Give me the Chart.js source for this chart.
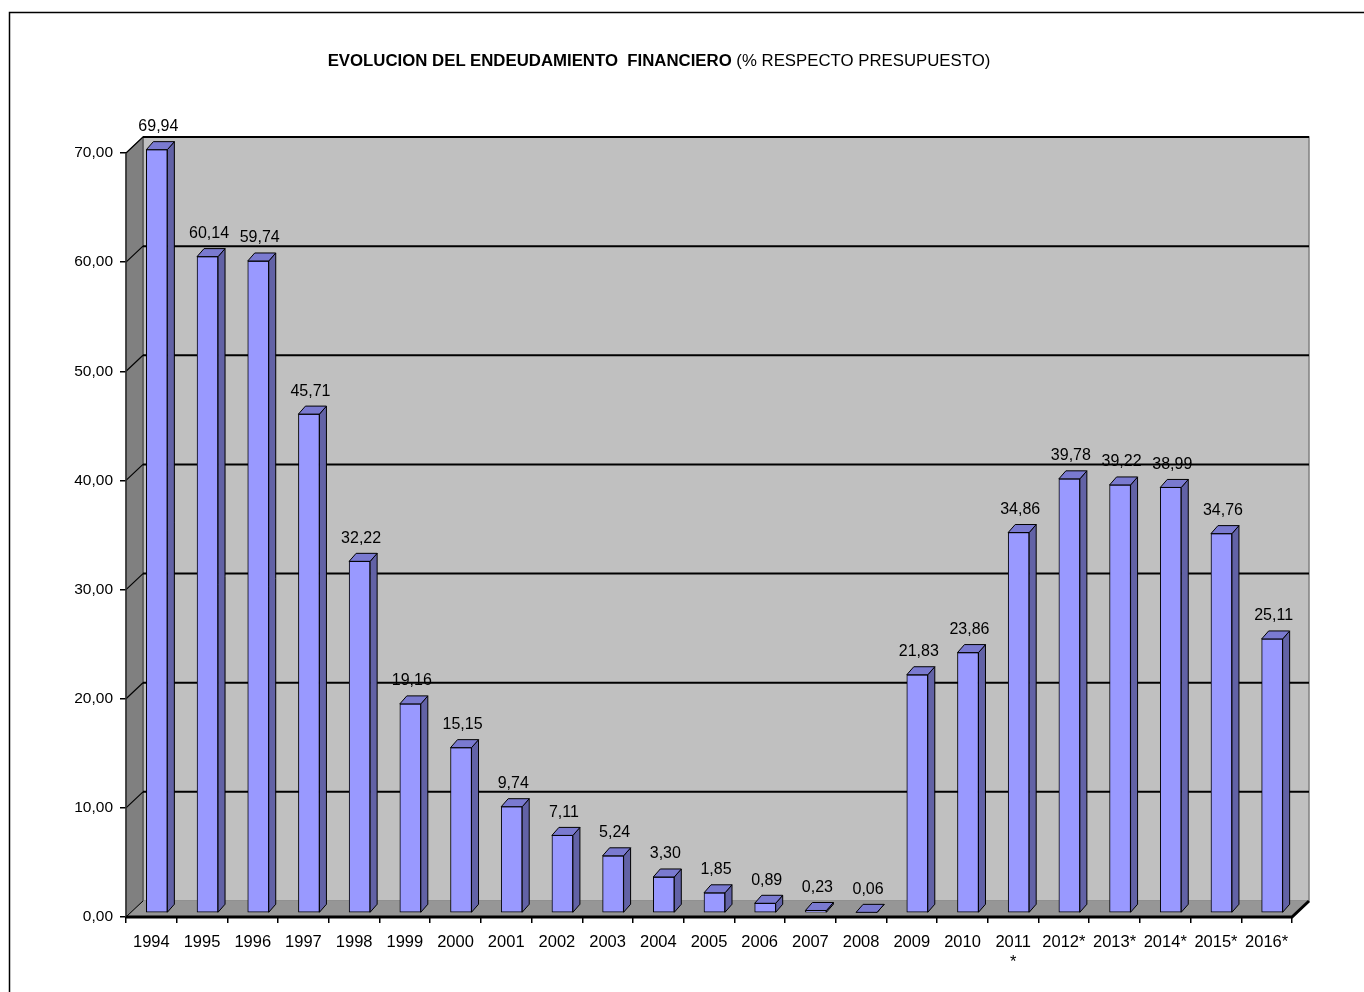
<!DOCTYPE html>
<html><head><meta charset="utf-8">
<script src="https://cdn.jsdelivr.net/npm/chart.js@4/dist/chart.umd.min.js"></script>
<style>
html,body{margin:0;padding:0;background:#fff;overflow:hidden;}
#wrap{position:relative;width:1364px;height:992px;}
canvas{position:absolute;left:0;top:0;}
#title{position:absolute;left:0;width:1318px;top:51px;line-height:20px;text-align:center;font-family:"Liberation Sans",Arial,sans-serif;font-size:16.8px;white-space:pre;color:#000;}
</style></head>
<body><div id="wrap"><canvas id="c" width="1364" height="992"></canvas><div id="title"><b>EVOLUCION DEL ENDEUDAMIENTO  FINANCIERO</b> (% RESPECTO PRESUPUESTO)</div></div>
<script>
const categories = ["1994","1995","1996","1997","1998","1999","2000","2001","2002","2003","2004","2005","2006","2007","2008","2009","2010",["2011","*"],"2012*","2013*","2014*","2015*","2016*"];
const values = [69.94,60.14,59.74,45.71,32.22,19.16,15.15,9.74,7.11,5.24,3.30,1.85,0.89,0.23,0.06,21.83,23.86,34.86,39.78,39.22,38.99,34.76,25.11];
const yTicks = [0,10,20,30,40,50,60,70];

const FONT = '"Liberation Sans",Arial,sans-serif';
const DX = 17, DY = -16;      // wall depth
const BX = 5.5, BY = -4;      // bar placement in depth
const BDX = 7, BDY = -8;      // bar depth
const fmt = v => v.toFixed(2).replace('.', ',');

const frame = {
  id: 'frame',
  beforeDraw(chart) {
    const c = chart.ctx;
    c.save();
    c.fillStyle = '#fff';
    c.fillRect(0, 0, chart.width, chart.height);
    c.strokeStyle = '#000';
    c.lineWidth = 1.5;
    c.beginPath();
    c.moveTo(9.5, chart.height + 5);
    c.lineTo(9.5, 12.5);
    c.lineTo(chart.width + 5, 12.5);
    c.stroke();
    c.restore();
  },
  beforeDatasetsDraw(chart) {
    const c = chart.ctx, a = chart.chartArea, y = chart.scales.y;
    const xL = a.left, xR = a.right, yT = y.getPixelForValue(70), yB = y.getPixelForValue(0);
    c.save();
    // back wall
    c.fillStyle = '#C0C0C0';
    c.fillRect(xL + DX, yT + DY, xR - xL, yB - yT);
    c.strokeStyle = '#808080'; c.lineWidth = 1.5;
    c.strokeRect(xL + DX, yT + DY, xR - xL, yB - yT);
    // side wall
    c.fillStyle = '#808080';
    c.beginPath();
    c.moveTo(xL, yT); c.lineTo(xL + DX, yT + DY); c.lineTo(xL + DX, yB + DY); c.lineTo(xL, yB); c.closePath();
    c.fill();
    c.strokeStyle = '#404040'; c.lineWidth = 1; c.stroke();
    // floor
    c.fillStyle = '#969696';
    c.beginPath();
    c.moveTo(xL, yB); c.lineTo(xL + DX, yB + DY); c.lineTo(xR + DX, yB + DY); c.lineTo(xR, yB); c.closePath();
    c.fill();
    // gridlines
    c.strokeStyle = '#000';
    yTicks.forEach(v => {
      if (v === 0) return;
      const py = y.getPixelForValue(v);
      c.lineWidth = 2;
      c.beginPath(); c.moveTo(xL + DX, py + DY); c.lineTo(xR + DX, py + DY); c.stroke();
      c.lineWidth = 1.2;
      c.beginPath(); c.moveTo(xL, py); c.lineTo(xL + DX, py + DY); c.stroke();
    });
    c.lineWidth = 1;
    c.beginPath(); c.moveTo(xL, yB); c.lineTo(xL + DX, yB + DY); c.stroke();
    // left axis edge
    c.strokeStyle = '#303030'; c.lineWidth = 1.5;
    c.beginPath(); c.moveTo(xL, yT); c.lineTo(xL, yB); c.stroke();
    // baseline
    c.strokeStyle = '#000'; c.lineWidth = 3;
    c.beginPath(); c.moveTo(xL, yB); c.lineTo(xR, yB); c.lineTo(xR + DX, yB + DY); c.stroke();
    c.restore();
  },
  beforeDatasetDraw(chart) {
    chart.ctx.save();
    chart.ctx.translate(BX, BY);
  },
  afterDatasetDraw(chart, args) {
    const c = chart.ctx;
    c.strokeStyle = '#000'; c.lineWidth = 1; c.lineJoin = 'round';
    args.meta.data.forEach(el => {
      const w = el.width, l = el.x - w / 2, r = el.x + w / 2, t = el.y, b = el.base;
      // side face
      c.fillStyle = '#6262A6';
      c.beginPath();
      c.moveTo(r, t); c.lineTo(r + BDX, t + BDY); c.lineTo(r + BDX, b + BDY); c.lineTo(r, b); c.closePath();
      c.fill(); c.stroke();
      // top face
      c.fillStyle = '#7A7AD0';
      c.beginPath();
      c.moveTo(l, t); c.lineTo(l + BDX, t + BDY); c.lineTo(r + BDX, t + BDY); c.lineTo(r, t); c.closePath();
      c.fill(); c.stroke();
    });
    c.restore();
  },
  afterDatasetsDraw(chart) {
    const c = chart.ctx, meta = chart.getDatasetMeta(0);
    c.save();
    c.fillStyle = '#000';
    c.font = '16px ' + FONT;
    c.textAlign = 'center';
    c.textBaseline = 'middle';
    meta.data.forEach((el, i) => {
      c.fillText(fmt(values[i]), el.x + BX + 1.5, el.y + BY - 23);
    });
    c.restore();
  }
};

new Chart(document.getElementById('c'), {
  type: 'bar',
  data: {
    labels: categories,
    datasets: [{
      data: values,
      backgroundColor: '#9999FF',
      borderColor: '#000',
      borderWidth: 1,
      borderSkipped: false,
      barThickness: 21,
      clip: false
    }]
  },
  options: {
    responsive: false,
    animation: false,
    events: [],
    layout: { padding: { left: 0, top: 153, right: 72, bottom: 0 } },
    plugins: { legend: { display: false }, tooltip: { enabled: false }, title: { display: false } },
    scales: {
      x: {
        offset: true,
        grid: { display: true, drawOnChartArea: false, drawTicks: true, tickLength: 6, color: '#000', offset: true, lineWidth: 1.5 },
        border: { display: false },
        ticks: { color: '#000', font: { family: FONT, size: 16.5, lineHeight: 1.25 }, maxRotation: 0, minRotation: 0, autoSkip: false, padding: 9 },
        afterFit(s) { s.height = 75; }
      },
      y: {
        min: 0, max: 70,
        afterBuildTicks(s) { s.ticks = yTicks.map(v => ({ value: v })); },
        ticks: { color: '#000', font: { family: FONT, size: 15.5 }, padding: 7, callback: v => fmt(v) },
        grid: { display: true, drawOnChartArea: false, drawTicks: true, tickLength: 6, color: '#000', lineWidth: 1.5 },
        border: { display: false },
        afterFit(s) { s.width = 126; }
      }
    }
  },
  plugins: [frame]
});
</script>
</body></html>
